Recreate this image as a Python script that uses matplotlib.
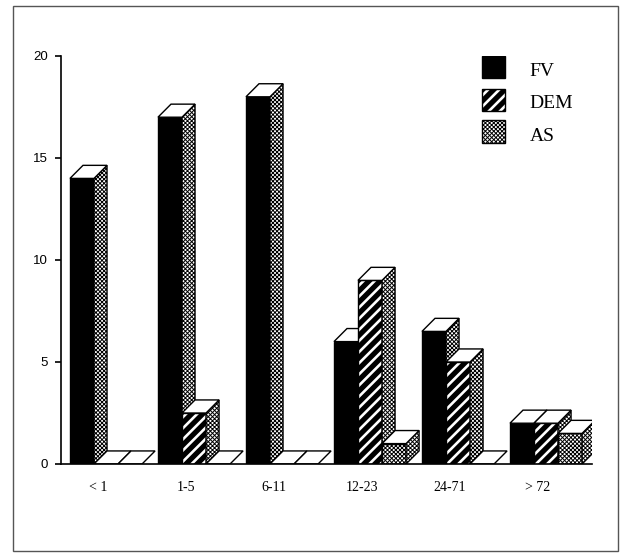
import matplotlib
matplotlib.use("Agg")
import matplotlib.pyplot as plt
from matplotlib.patches import Polygon, Rectangle

# data
groups = ["< 1", "1-5", "6-11", "12-23", "24-71", "> 72"]
series = ["FV", "DEM", "AS"]
fv = [14, 17, 18, 6, 6.5, 2]
dem = [0, 2.5, 0, 9, 5, 2]
as_ = [0, 0, 0, 1, 0, 1.5]

styles = ["black", "stripe", "dots"]

# geometry of the pseudo-3d bars (data units)
bar_w = 0.273
first_off = -0.318
dx = 0.148
dy = 0.64


def face(ax, xy, kind, transform=None):
    kw = {}
    if transform is not None:
        kw["transform"] = transform
    if kind == "black":
        ax.add_patch(Polygon(xy, closed=True, fc="black", ec="black", lw=1.0, **kw))
    elif kind == "white":
        ax.add_patch(Polygon(xy, closed=True, fc="white", ec="black", lw=1.0, **kw))
    elif kind == "stripe":
        p = Polygon(xy, closed=True, fc="black", ec="white", lw=0, hatch="///", **kw)
        if hasattr(p, "set_hatch_linewidth"):
            p.set_hatch_linewidth(1.9)
        ax.add_patch(p)
        ax.add_patch(Polygon(xy, closed=True, fill=False, ec="black", lw=1.0, **kw))
    elif kind == "dots":
        p = Polygon(xy, closed=True, fc="white", ec="black", lw=1.0, hatch="xxxxxxxx", **kw)
        if hasattr(p, "set_hatch_linewidth"):
            p.set_hatch_linewidth(0.7)
        ax.add_patch(p)


def bar3d(ax, x0, h, kind):
    x1 = x0 + bar_w
    if h > 0:
        face(ax, [(x0, 0), (x1, 0), (x1, h), (x0, h)], kind)
        face(ax, [(x1, 0), (x1 + dx, dy), (x1 + dx, h + dy), (x1, h)], "dots")
    face(ax, [(x0, h), (x1, h), (x1 + dx, h + dy), (x0 + dx, h + dy)], "white")


fig = plt.figure(figsize=(6.21, 5.54), dpi=100)
ax = fig.add_axes([61 / 621, 90 / 554, 531 / 621, 408 / 554])

for i in range(len(groups)):
    for j, vals in enumerate([fv, dem, as_]):
        bar3d(ax, i + first_off + j * bar_w, vals[i], styles[j])

ax.set_xlim(-0.42, 5.614)
ax.set_ylim(0, 20)

ax.spines["top"].set_visible(False)
ax.spines["right"].set_visible(False)
ax.spines["left"].set_linewidth(1.2)
ax.spines["bottom"].set_linewidth(1.2)

ax.set_yticks([0, 5, 10, 15, 20])
ax.set_yticklabels(["0", "5", "10", "15", "20"], family="Liberation Sans", fontsize=9.5)
ax.tick_params(axis="y", direction="out", length=4.5, width=1.2, pad=5)

ax.set_xticks(range(len(groups)))
ax.set_xticklabels(groups, family="Liberation Serif", fontsize=10)
ax.tick_params(axis="x", length=0, pad=12)

# legend drawn by hand in axes coordinates
leg_y = [0.946, 0.865, 0.787]
txt_y = [0.951, 0.872, 0.792]
for k in range(3):
    x0, x1 = 0.793, 0.793 + 0.0433
    y0, y1 = leg_y[k], leg_y[k] + 0.055
    face(ax, [(x0, y0), (x1, y0), (x1, y1), (x0, y1)], styles[k], transform=ax.transAxes)
    ax.text(0.883, txt_y[k], series[k], transform=ax.transAxes, family="Liberation Serif",
            fontsize=14, va="baseline", ha="left")

# outer frame of the scanned figure
fig.add_artist(Rectangle((13 / 621, 3 / 554), 605 / 621, 545 / 554, transform=fig.transFigure,
                         fill=False, ec="#555555", lw=1.0))

fig.savefig("out.png", dpi=100)
